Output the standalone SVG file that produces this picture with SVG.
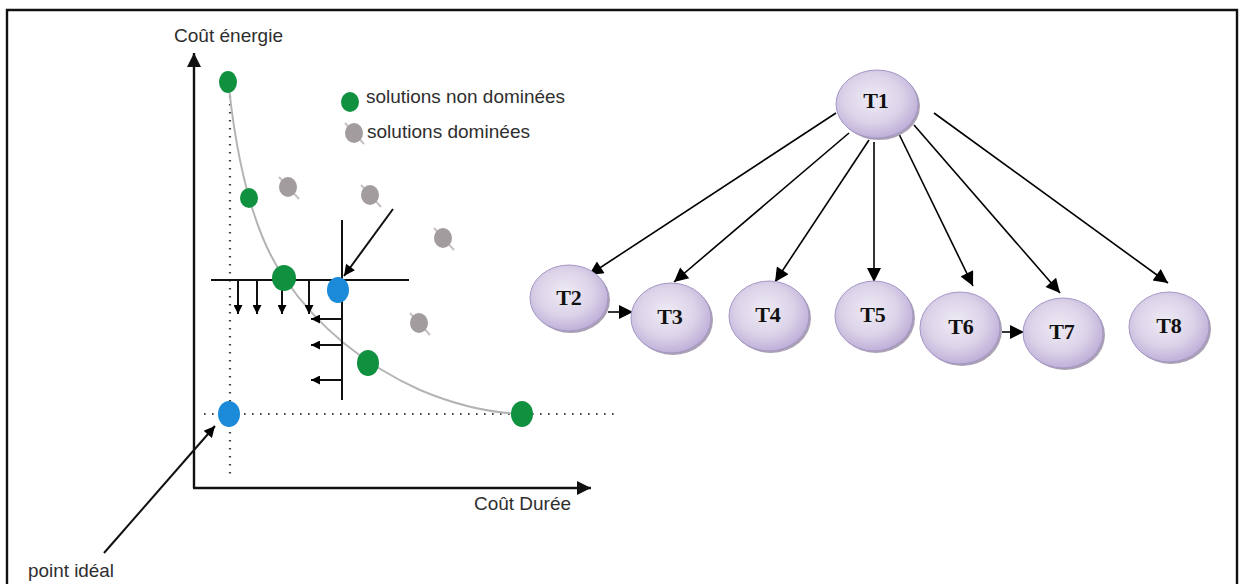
<svg xmlns="http://www.w3.org/2000/svg" width="1240" height="584" viewBox="0 0 1240 584">
  <defs>
    <style>
      .lbl { font-family: "Liberation Sans", Arial, sans-serif; font-size: 19px; fill: #2e2e2e; }
      .node-lbl { font-family: "Liberation Serif", "Times New Roman", serif; font-size: 22px; font-weight: bold; fill: #111; text-anchor: middle; }
      .axis { stroke: #111; stroke-width: 2.4; fill: none; }
      .dots { stroke: #444; stroke-width: 2.2; stroke-dasharray: 1.6 6.4; fill: none; }
      .solid { stroke: #111; stroke-width: 2; fill: none; }
      .green { fill: #10913f; }
      .blue { fill: #1b8ad9; }
      .grey { fill: #a39c9e; }
      .strike { stroke: #c7c1c3; stroke-width: 2; }
      .edge { stroke: #000; stroke-width: 1.6; fill: none; }
      .node-body { fill: url(#nodeFill); stroke: #a497c6; stroke-width: 1; }
      .node-shadow { fill: #aaa2b4; }
    </style>
    <radialGradient id="nodeFill" cx="0.45" cy="0.42" r="0.6">
      <stop offset="0" stop-color="#efebf5"/>
      <stop offset="0.6" stop-color="#dbd2e8"/>
      <stop offset="1" stop-color="#bcadd7"/>
    </radialGradient>
    <marker id="ah" viewBox="0 0 10 10" refX="10" refY="5" markerWidth="10" markerHeight="9" markerUnits="userSpaceOnUse" orient="auto">
      <path d="M0,0 L10,5 L0,10 Z" fill="#000"/>
    </marker>
    <marker id="ahMid" viewBox="0 0 10 10" refX="10" refY="5" markerWidth="14" markerHeight="11" markerUnits="userSpaceOnUse" orient="auto">
      <path d="M0,0 L10,5 L0,10 Z" fill="#000"/>
    </marker>
    <marker id="ahBig" viewBox="0 0 10 10" refX="10" refY="5" markerWidth="17" markerHeight="14" markerUnits="userSpaceOnUse" orient="auto">
      <path d="M0,0 L10,5 L0,10 Z" fill="#000"/>
    </marker>
    <marker id="ahAxis" viewBox="0 0 10 10" refX="10" refY="5" markerWidth="20" markerHeight="14" markerUnits="userSpaceOnUse" orient="auto">
      <path d="M0,0 L10,5 L0,10 Z" fill="#111"/>
    </marker>
  </defs>

  <rect width="1240" height="584" fill="#fff"/>
  <!-- frame -->
  <path d="M7,590 V10 H1237 V590" fill="none" stroke="#111" stroke-width="2.4"/>

  <!-- Pareto chart -->
  <g id="chart">
    <text class="lbl" x="174" y="42" textLength="109" lengthAdjust="spacingAndGlyphs">Coût énergie</text>
    <text class="lbl" x="474" y="510" textLength="97" lengthAdjust="spacingAndGlyphs">Coût Durée</text>
    <text class="lbl" x="28" y="577" textLength="86" lengthAdjust="spacingAndGlyphs">point idéal</text>

    <!-- axes -->
    <path class="axis" d="M194,488 V53" marker-end="url(#ahAxis)"/>
    <path class="axis" d="M193,488 H591" marker-end="url(#ahAxis)"/>

    <!-- guide lines -->
    <path class="dots" d="M230,96 V474"/>
    <path class="dots" d="M204,414 H618"/>

    <!-- front curve -->
    <path d="M229,88 C238,170 256,238 285,279 C316,324 358,362 420,390 C458,406 492,413 522,414" fill="none" stroke="#b4b4b4" stroke-width="2"/>

    <!-- dominance cone -->
    <path class="solid" d="M211,280 H409"/>
    <path class="solid" d="M342,220 V400"/>
    <g class="solid">
      <path d="M238,281 V314" marker-end="url(#ah)"/>
      <path d="M257,281 V314" marker-end="url(#ah)"/>
      <path d="M282,281 V314" marker-end="url(#ah)"/>
      <path d="M309,281 V314" marker-end="url(#ah)"/>
      <path d="M341,319 H311" marker-end="url(#ah)"/>
      <path d="M341,345 H311" marker-end="url(#ah)"/>
      <path d="M341,380 H311" marker-end="url(#ah)"/>
      <path d="M393,209 L344,276" marker-end="url(#ahMid)"/>
      <path d="M104,553 L215,426" marker-end="url(#ahMid)"/>
    </g>

    <!-- dominated solutions -->
    <g>
      <line class="strike" x1="279" y1="177" x2="299" y2="199"/>
      <ellipse class="grey" cx="288" cy="187" rx="9" ry="10"/>
      <line class="strike" x1="361" y1="185" x2="381" y2="207"/>
      <ellipse class="grey" cx="370" cy="195" rx="9" ry="10"/>
      <line class="strike" x1="434" y1="228" x2="454" y2="250"/>
      <ellipse class="grey" cx="443" cy="238" rx="9" ry="10"/>
      <line class="strike" x1="410" y1="313" x2="430" y2="335"/>
      <ellipse class="grey" cx="419" cy="323" rx="9" ry="10"/>
    </g>

    <!-- non-dominated solutions -->
    <ellipse class="green" cx="228" cy="82" rx="9" ry="11"/>
    <ellipse class="green" cx="249" cy="198" rx="9" ry="10"/>
    <ellipse class="green" cx="284" cy="278" rx="12" ry="13"/>
    <ellipse class="green" cx="368" cy="363" rx="11" ry="13"/>
    <ellipse class="green" cx="522" cy="414" rx="11" ry="13"/>

    <!-- reference points -->
    <ellipse class="blue" cx="338" cy="290" rx="11" ry="13"/>
    <ellipse class="blue" cx="229" cy="414" rx="11" ry="13"/>

    <!-- legend -->
    <ellipse class="green" cx="350" cy="102" rx="9" ry="10"/>
    <text class="lbl" x="366" y="103" textLength="199" lengthAdjust="spacingAndGlyphs">solutions non dominées</text>
    <line class="strike" x1="345" y1="123" x2="364" y2="144"/>
    <ellipse class="grey" cx="354" cy="133" rx="9" ry="10"/>
    <text class="lbl" x="367" y="138" textLength="163" lengthAdjust="spacingAndGlyphs">solutions dominées</text>
  </g>

  <!-- task graph connectors -->
  <g id="connectors">
    <path class="edge" d="M836,113 L589,275" marker-end="url(#ahBig)"/>
    <path class="edge" d="M849,133 L674,282" marker-end="url(#ahBig)"/>
    <path class="edge" d="M869,140 L775,282" marker-end="url(#ahBig)"/>
    <path class="edge" d="M874,142 L874,282" marker-end="url(#ahBig)"/>
    <path class="edge" d="M898,132 L973,286" marker-end="url(#ahBig)"/>
    <path class="edge" d="M914,125 L1060,293" marker-end="url(#ahBig)"/>
    <path class="edge" d="M934,113 L1168,283" marker-end="url(#ahBig)"/>
    <path class="edge" d="M608,312 L633,312" marker-end="url(#ahBig)"/>
    <path class="edge" d="M1002,332 L1024,332" marker-end="url(#ahBig)"/>
  </g>

  <g id="T1">
    <ellipse class="node-shadow" cx="879" cy="106" rx="41" ry="34"/>
    <ellipse class="node-body" cx="877" cy="104" rx="41" ry="34"/>
    <text class="node-lbl" x="876" y="108">T1</text>
  </g>
  <g id="T2">
    <ellipse class="node-shadow" cx="571" cy="300" rx="39" ry="33"/>
    <ellipse class="node-body" cx="569" cy="298" rx="39" ry="33"/>
    <text class="node-lbl" x="569" y="305">T2</text>
  </g>
  <g id="T3">
    <ellipse class="node-shadow" cx="673" cy="320" rx="40" ry="35"/>
    <ellipse class="node-body" cx="671" cy="318" rx="40" ry="35"/>
    <text class="node-lbl" x="670" y="324">T3</text>
  </g>
  <g id="T4">
    <ellipse class="node-shadow" cx="771" cy="318" rx="40" ry="35"/>
    <ellipse class="node-body" cx="769" cy="316" rx="40" ry="35"/>
    <text class="node-lbl" x="768" y="322">T4</text>
  </g>
  <g id="T5">
    <ellipse class="node-shadow" cx="876" cy="318" rx="39" ry="35"/>
    <ellipse class="node-body" cx="874" cy="316" rx="39" ry="35"/>
    <text class="node-lbl" x="873" y="322">T5</text>
  </g>
  <g id="T6">
    <ellipse class="node-shadow" cx="962" cy="330" rx="40" ry="36"/>
    <ellipse class="node-body" cx="960" cy="328" rx="40" ry="36"/>
    <text class="node-lbl" x="961" y="334">T6</text>
  </g>
  <g id="T7">
    <ellipse class="node-shadow" cx="1065" cy="335" rx="40" ry="35"/>
    <ellipse class="node-body" cx="1063" cy="333" rx="40" ry="35"/>
    <text class="node-lbl" x="1062" y="339">T7</text>
  </g>
  <g id="T8">
    <ellipse class="node-shadow" cx="1171" cy="329" rx="40" ry="35"/>
    <ellipse class="node-body" cx="1169" cy="327" rx="40" ry="35"/>
    <text class="node-lbl" x="1169" y="333">T8</text>
  </g>
</svg>
